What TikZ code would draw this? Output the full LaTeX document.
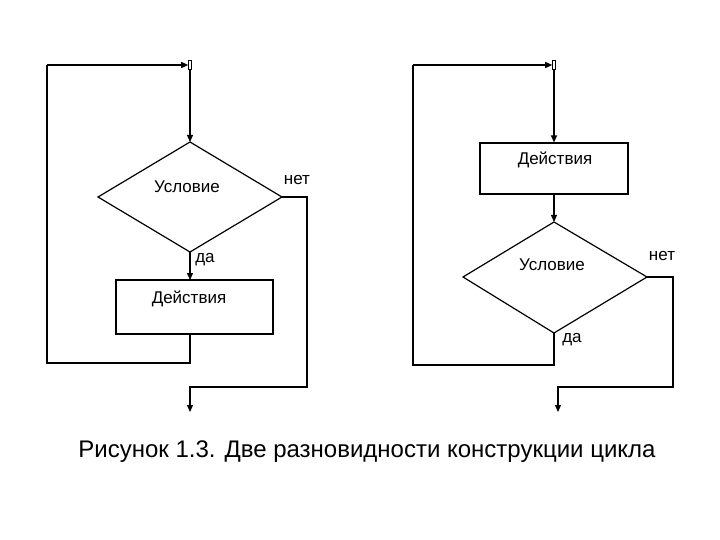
\documentclass[tikz,border=0pt]{standalone}
\usepackage{fontspec}
\setmainfont{Liberation Sans}
\usetikzlibrary{arrows.meta}
\begin{document}
\begin{tikzpicture}[x=1pt,y=-1pt,
  ln/.style={draw=black,line width=1.2pt},
  arr/.style={ln,-{Triangle[length=7pt,width=6pt]}},
  lbl/.style={font=\fontsize{17}{19}\selectfont,inner sep=0pt},
  glyph/.style={draw=black,line width=0.6pt,minimum width=3pt,minimum height=9pt,inner sep=0pt}]
\useasboundingbox (0,0) rectangle (720,540);
% left
\node[glyph] (jl) at (190,65) {};
\coordinate (l0) at (47,65);
\coordinate (dt) at (190,142);
\coordinate (dl) at (98,197);
\coordinate (dr) at (282,197);
\coordinate (db) at (190,252);
\draw[ln] (dt)--(dr)--(db)--(dl)--cycle;
\node[ln,minimum width=157pt,minimum height=54pt,inner sep=0pt] (r1) at (194.5,307) {};
\node[lbl] at (187,187) {Условие};
\node[lbl] at (297,180) {нет};
\node[lbl] at (205,260) {да};
\node[lbl] at (189,299) {Действия};
\draw[arr] (l0)--(jl.west);
\draw[arr] (jl.south)--(dt);
\draw[arr] (db)--(190,280);
\draw[ln] (190,334)--(190,363)--(47,363)--(l0);
\coordinate (le) at (190,412);
\draw[arr] (dr)--(307,197)--(307,387)--(190,387)--(le);
% right
\node[glyph] (jr) at (554,65) {};
\coordinate (r0) at (413,65);
\node[ln,minimum width=148pt,minimum height=51pt,inner sep=0pt] (r2) at (554,168.5) {};
\coordinate (et) at (554,222);
\coordinate (el) at (463,277);
\coordinate (er) at (647,277);
\coordinate (eb) at (554,333);
\draw[ln] (et)--(er)--(eb)--(el)--cycle;
\node[lbl] at (555,160) {Действия};
\node[lbl] at (552,265) {Условие};
\node[lbl] at (662,256) {нет};
\node[lbl] at (572,340) {да};
\draw[arr] (r0)--(jr.west);
\draw[arr] (jr.south)--(r2.north);
\draw[arr] (r2.south)--(et);
\draw[ln] (eb)--(554,365)--(413,365)--(r0);
\coordinate (re) at (558,412);
\draw[arr] (er)--(673,277)--(673,387)--(558,387)--(re);
\node[font=\fontsize{24}{27}\selectfont,inner sep=0pt] (cap) at (367,452) {Рисунок 1.3. Две разновидности конструкции цикла};
\end{tikzpicture}
\end{document}
